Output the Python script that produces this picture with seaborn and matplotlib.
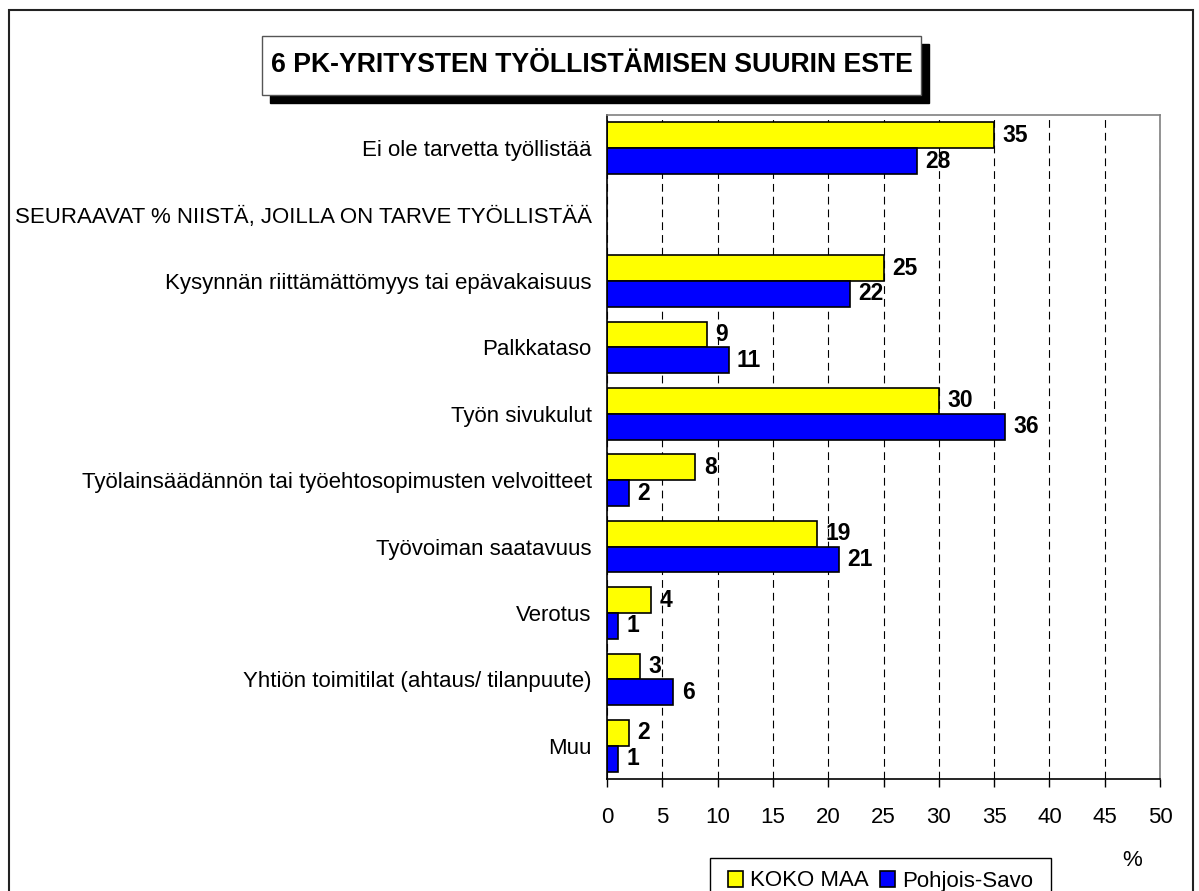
import numpy as np
import pandas as pd
import matplotlib.pyplot as plt
import seaborn as sns
from matplotlib.patches import Rectangle, Patch

# chart data
categories = [
    "Ei ole tarvetta työllistää",
    "SEURAAVAT % NIISTÄ, JOILLA ON TARVE TYÖLLISTÄÄ",
    "Kysynnän riittämättömyys tai epävakaisuus",
    "Palkkataso",
    "Työn sivukulut",
    "Työlainsäädännön tai työehtosopimusten velvoitteet",
    "Työvoiman saatavuus",
    "Verotus",
    "Yhtiön toimitilat (ahtaus/ tilanpuute)",
    "Muu",
]
koko_maa = [35, np.nan, 25, 9, 30, 8, 19, 4, 3, 2]
pohjois_savo = [28, np.nan, 22, 11, 36, 2, 21, 1, 6, 1]
series_names = ["KOKO MAA", "Pohjois-Savo"]
series_colors = ["#FFFF00", "#0000FF"]
x_ticks = list(range(0, 55, 5))
title = "6 PK-YRITYSTEN TYÖLLISTÄMISEN SUURIN ESTE"

sns.set_theme(style="white")
plt.rcParams["font.family"] = ["Liberation Sans", "DejaVu Sans"]
plt.rcParams["text.color"] = "black"
plt.rcParams["xtick.color"] = "black"
plt.rcParams["ytick.color"] = "black"

rows = []
for cat, a, b in zip(categories, koko_maa, pohjois_savo):
    if not np.isnan(a):
        rows.append({"cat": cat, "series": series_names[0], "value": a})
        rows.append({"cat": cat, "series": series_names[1], "value": b})
df = pd.DataFrame(rows)

W, H = 1199, 891
fig = plt.figure(figsize=(W / 100, H / 100), dpi=100)
ax = fig.add_axes([607 / W, 1 - 779 / H, (1160 - 607) / W, (779 - 115) / H])

sns.barplot(data=df, y="cat", x="value", hue="series", order=categories,
            hue_order=series_names, palette=series_colors, saturation=1,
            orient="h", width=0.78, edgecolor="black", linewidth=1.2,
            errorbar=None, legend=False, ax=ax)

for cont in ax.containers:
    vals = cont.datavalues
    labels = ["" if np.isnan(v) else f"{v:.0f}" for v in vals]
    ax.bar_label(cont, labels=labels, padding=6, fontsize=16.5, fontweight="bold",
                 color="black")

ax.set_xlim(0, 50)
ax.set_ylim(len(categories) - 0.5, -0.5)
ax.set_xticks(x_ticks)
ax.set_xlabel("")
ax.set_ylabel("")
ax.xaxis.grid(True, linestyle=(0, (7, 4.5)), color="black", linewidth=0.8)
ax.set_axisbelow(True)
ax.tick_params(axis="x", direction="out", length=6, width=1, color="black",
               labelsize=16, pad=14, bottom=True)
ax.tick_params(axis="y", length=0, labelsize=16, pad=11)
for s in ["top", "right"]:
    ax.spines[s].set_color("gray")
    ax.spines[s].set_linewidth(1.2)
for s in ["left", "bottom"]:
    ax.spines[s].set_color("black")
    ax.spines[s].set_linewidth(1.2)

# outer border
fig.patches.append(Rectangle((9 / W, -0.01), (1193 - 9) / W, 1 - 10 / H + 0.01,
                             transform=fig.transFigure, fill=False,
                             edgecolor="#222222", linewidth=1.5))

# title box with shadow
bx0, bx1, by0, by1 = 262, 921, 36, 95
fig.patches.append(Rectangle(((bx0 + 8) / W, 1 - (by1 + 8) / H), (bx1 - bx0) / W,
                             (by1 - by0) / H, transform=fig.transFigure,
                             facecolor="black", edgecolor="black"))
fig.patches.append(Rectangle((bx0 / W, 1 - by1 / H), (bx1 - bx0) / W,
                             (by1 - by0) / H, transform=fig.transFigure,
                             facecolor="white", edgecolor="#555555", linewidth=1))
fig.text((bx0 + bx1) / 2 / W, 1 - (by0 + by1) / 2 / H, title, ha="center",
         va="center", fontsize=19.2, fontweight="bold")

# legend
lx0, lx1, ly0 = 710, 1051, 858
fig.patches.append(Rectangle((lx0 / W, -0.01), (lx1 - lx0) / W, 1 - ly0 / H + 0.01,
                             transform=fig.transFigure, facecolor="white",
                             edgecolor="black", linewidth=1))
handles = [Patch(facecolor=c, edgecolor="black", linewidth=1.2) for c in series_colors]
fig.legend(handles, series_names, loc="center",
           bbox_to_anchor=((lx0 + lx1) / 2 / W, 1 - 881 / H),
           ncol=2, frameon=False, fontsize=16, handlelength=0.7, handleheight=0.7,
           handletextpad=0.3, columnspacing=0.5)

fig.text(1132 / W, 1 - 860 / H, "%", ha="center", va="center", fontsize=16)

fig.savefig("out.png", dpi=100)
